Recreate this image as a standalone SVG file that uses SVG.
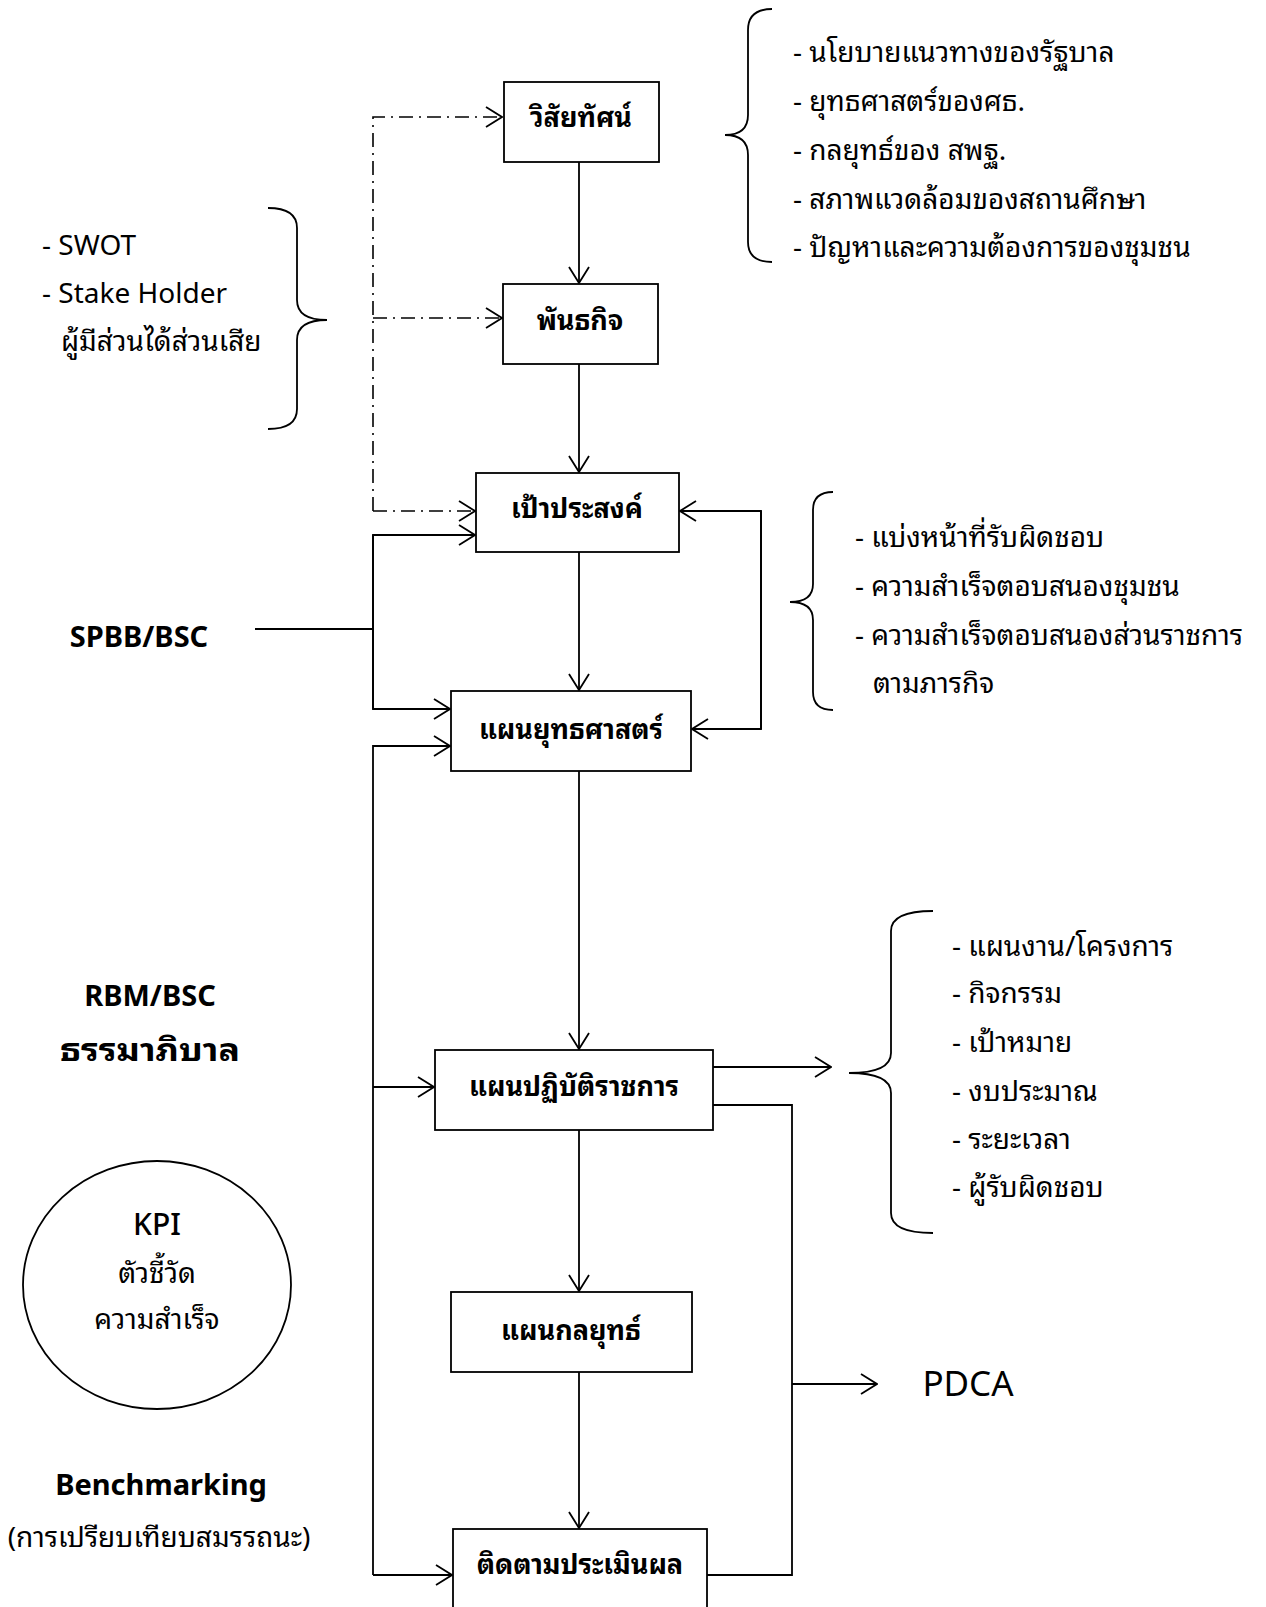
<svg xmlns="http://www.w3.org/2000/svg" width="1266" height="1607" viewBox="0 0 1266 1607">
<style>
text{font-family:"Noto Sans","Noto Sans Thai Looped","Noto Serif Thai","Noto Sans Thai",sans-serif;fill:#000}
.n{font-size:27px;font-weight:bold;text-anchor:middle}
.l{font-size:28px}
.b{font-size:29px;font-weight:bold;text-anchor:middle}
.box{fill:#fff;stroke:#000;stroke-width:1.8}
.c{fill:none;stroke:#000;stroke-width:1.8}
.d{fill:none;stroke:#000;stroke-width:1.6;stroke-dasharray:14 6 2 6}
</style>
<defs>
<marker id="a" viewBox="0 0 18 22" refX="17" refY="11" markerWidth="18" markerHeight="22" orient="auto" markerUnits="userSpaceOnUse">
<path d="M1,1 L17,11 L1,21" fill="none" stroke="#000" stroke-width="1.8"/>
</marker>
</defs>
<g id="connectors">
<path class="d" d="M373,511 L373,117 L502,117" marker-end="url(#a)"/>
<path class="d" d="M373,318 L502,318" marker-end="url(#a)"/>
<path class="d" d="M373,511 L475,511" marker-end="url(#a)"/>
<path class="c" d="M579,162 L579,283" marker-end="url(#a)"/>
<path class="c" d="M579,364 L579,472" marker-end="url(#a)"/>
<path class="c" d="M579,552 L579,690" marker-end="url(#a)"/>
<path class="c" d="M579,771 L579,1049" marker-end="url(#a)"/>
<path class="c" d="M579,1130 L579,1291" marker-end="url(#a)"/>
<path class="c" d="M579,1372 L579,1528" marker-end="url(#a)"/>
<path class="c" d="M373,709 L373,535 L475,535" marker-end="url(#a)"/>
<path class="c" d="M373,535 L373,709 L450,709" marker-end="url(#a)"/>
<path class="c" d="M255,629 L373,629"/>
<path class="c" d="M373,1575 L373,746 L450,746" marker-end="url(#a)"/>
<path class="c" d="M373,1087 L434,1087" marker-end="url(#a)"/>
<path class="c" d="M373,1575 L452,1575" marker-end="url(#a)"/>
<path class="c" d="M761,729 L761,511 L680,511" marker-end="url(#a)"/>
<path class="c" d="M761,511 L761,729 L692,729" marker-end="url(#a)"/>
<path class="c" d="M713,1067 L831,1067" marker-end="url(#a)"/>
<path class="c" d="M713,1105 L792,1105 L792,1575 L707,1575"/>
<path class="c" d="M792,1384 L877,1384" marker-end="url(#a)"/>
</g>
<g id="n-vision"><rect class="box" x="504" y="82" width="155" height="80"/><text class="n" x="581" y="127">วิสัยทัศน์</text></g>
<g id="n-mission"><rect class="box" x="503" y="284" width="155" height="80"/><text class="n" x="580" y="330">พันธกิจ</text></g>
<g id="n-goal"><rect class="box" x="476" y="473" width="203" height="79"/><text class="n" x="577" y="518">เป้าประสงค์</text></g>
<g id="n-strategy"><rect class="box" x="451" y="691" width="240" height="80"/><text class="n" x="571" y="739">แผนยุทธศาสตร์</text></g>
<g id="n-action"><rect class="box" x="435" y="1050" width="278" height="80"/><text class="n" x="574" y="1096">แผนปฏิบัติราชการ</text></g>
<g id="n-tactic"><rect class="box" x="451" y="1292" width="241" height="80"/><text class="n" x="571" y="1340">แผนกลยุทธ์</text></g>
<g id="n-monitor"><rect class="box" x="453" y="1529" width="254" height="90"/><text class="n" x="580" y="1574">ติดตามประเมินผล</text></g>
<g id="brace-top">
<path class="c" d="M772,9 Q748,9 748,30 L748,115 Q748,135 725,135 Q748,135 748,155 L748,242 Q748,262 772,262"/>
<text class="l" x="793" y="62">- นโยบายแนวทางของรัฐบาล</text>
<text class="l" x="793" y="111">- ยุทธศาสตร์ของศธ.</text>
<text class="l" x="793" y="160">- กลยุทธ์ของ สพฐ.</text>
<text class="l" x="793" y="209">- สภาพแวดล้อมของสถานศึกษา</text>
<text class="l" x="793" y="257">- ปัญหาและความต้องการของชุมชน</text>
</g>
<g id="brace-swot">
<path class="c" d="M268,208 Q297,208 297,228 L297,300 Q297,320 327,320 Q297,320 297,340 L297,409 Q297,429 268,429"/>
<text class="l" x="42" y="255">- SWOT</text>
<text class="l" x="42" y="303">- Stake Holder</text>
<text class="l" x="61" y="351">ผู้มีส่วนได้ส่วนเสีย</text>
</g>
<g id="brace-mid">
<path class="c" d="M833,492 Q813,492 813,510 L813,584 Q813,602 790,602 Q813,602 813,620 L813,692 Q813,710 833,710"/>
<text class="l" x="855" y="547">- แบ่งหน้าที่รับผิดชอบ</text>
<text class="l" x="855" y="596">- ความสำเร็จตอบสนองชุมชน</text>
<text class="l" x="855" y="645">- ความสำเร็จตอบสนองส่วนราชการ</text>
<text class="l" x="873" y="693">ตามภารกิจ</text>
</g>
<g id="brace-bottom">
<path class="c" d="M933,911 Q891,911 891,931 L891,1053 Q891,1073 849,1073 Q891,1073 891,1093 L891,1213 Q891,1233 933,1233"/>
<text class="l" x="952" y="956">- แผนงาน/โครงการ</text>
<text class="l" x="952" y="1003">- กิจกรรม</text>
<text class="l" x="952" y="1052">- เป้าหมาย</text>
<text class="l" x="952" y="1101">- งบประมาณ</text>
<text class="l" x="952" y="1149">- ระยะเวลา</text>
<text class="l" x="952" y="1197">- ผู้รับผิดชอบ</text>
</g>
<g id="spbb"><text class="b" x="139" y="647">SPBB/BSC</text></g>
<g id="rbm"><text class="b" x="150" y="1006">RBM/BSC</text><text class="b" x="150" y="1061" style="font-size:32px" textLength="180" lengthAdjust="spacingAndGlyphs">ธรรมาภิบาล</text></g>
<g id="kpi">
<ellipse cx="157" cy="1285" rx="134" ry="124" fill="none" stroke="#000" stroke-width="1.8"/>
<text x="157" y="1235" style="font-size:30px;font-weight:500;text-anchor:middle">KPI</text>
<text x="157" y="1283" style="font-size:28px;text-anchor:middle">ตัวชี้วัด</text>
<text x="157" y="1329" style="font-size:28px;text-anchor:middle">ความสำเร็จ</text>
</g>
<g id="bench"><text class="b" x="161" y="1495">Benchmarking</text><text x="159" y="1547" style="font-size:28px;text-anchor:middle">(การเปรียบเทียบสมรรถนะ)</text></g>
<g id="pdca"><text x="968" y="1396" style="font-size:35px;text-anchor:middle">PDCA</text></g>
</svg>
